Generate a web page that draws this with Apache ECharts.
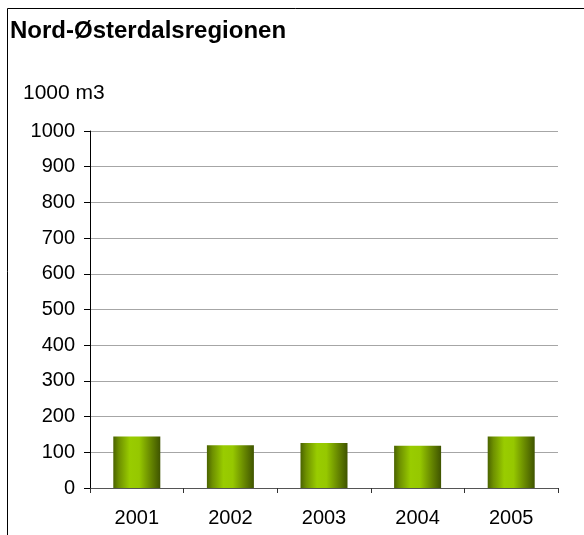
<!DOCTYPE html>
<html>
<head>
<meta charset="utf-8">
<script src="https://cdn.jsdelivr.net/npm/echarts@6/dist/echarts.min.js"></script>
<style>
  html, body { margin: 0; padding: 0; background: #fff; }
  #chart { width: 584px; height: 535px; }
</style>
</head>
<body>
<div id="chart"></div>
<script>
const years = ['2001', '2002', '2003', '2004', '2005']
const volumes = [144, 120, 126, 118, 144]
const yMin = 0
const yMax = 1000
const yStep = 100

const chart = echarts.init(document.getElementById('chart'))

const barColor = new echarts.graphic.LinearGradient(0, 0, 1, 0, [
  { offset: 0, color: '#4a6300' },
  { offset: 0.12, color: '#6e9000' },
  { offset: 0.35, color: '#99cc00' },
  { offset: 0.55, color: '#96c800' },
  { offset: 0.8, color: '#668600' },
  { offset: 1, color: '#3f5400' }
])

const option = {
  animation: false,
  textStyle: { fontFamily: 'Liberation Sans, Arial, sans-serif' },
  title: {
    text: 'Nord-Østerdalsregionen',
    left: 10,
    top: 19,
    padding: 0,
    textStyle: { fontSize: 24, fontWeight: 'bold', color: '#000' }
  },
  graphic: [
    {
      type: 'polyline',
      shape: { points: [[7.5, 535], [7.5, 8.5], [584, 8.5]] },
      style: { stroke: '#000', lineWidth: 1, fill: null }
    },
    {
      type: 'text',
      left: 23,
      top: 83,
      style: { text: '1000 m3', fontSize: 21, fill: '#000', fontFamily: 'Liberation Sans, Arial, sans-serif' }
    }
  ],
  grid: { left: 90, top: 131, right: 26, bottom: 47 },
  xAxis: {
    type: 'category',
    data: years,
    axisLine: { lineStyle: { color: '#555', width: 1 } },
    axisTick: { show: true, length: 5, lineStyle: { color: '#333' } },
    axisLabel: { fontSize: 20, color: '#000', margin: 20 }
  },
  yAxis: {
    type: 'value',
    min: yMin,
    max: yMax,
    interval: yStep,
    axisLine: { show: true, lineStyle: { color: '#000', width: 1 } },
    axisTick: { show: true, length: 6, lineStyle: { color: '#000' } },
    axisLabel: { fontSize: 20, color: '#000', margin: 15, formatter: (v) => String(v) },
    splitLine: { lineStyle: { color: '#a6a6a6', width: 1 } }
  },
  series: [
    {
      type: 'bar',
      data: volumes,
      barWidth: 47,
      itemStyle: { color: barColor }
    }
  ]
}

chart.setOption(option)
</script>
</body>
</html>
